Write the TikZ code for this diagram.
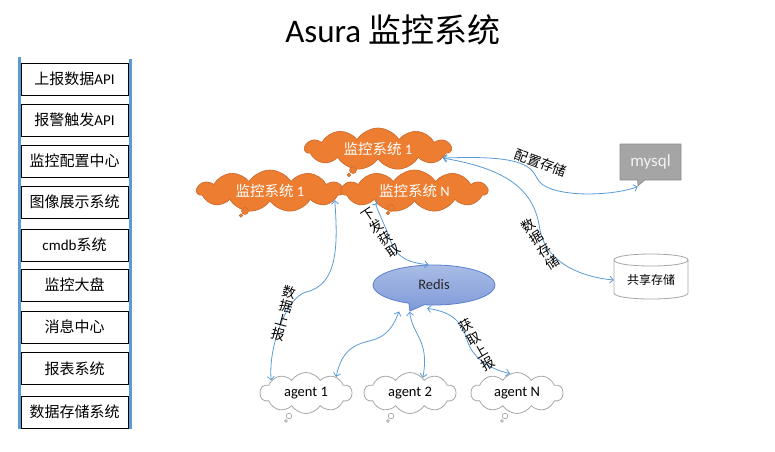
\documentclass[tikz,border=0pt]{standalone}
\usepackage{fontspec}
\setmainfont{Carlito}
\newfontfamily\cjk{Noto Sans CJK SC}
\usetikzlibrary{shapes.symbols,shapes.callouts,shapes.geometric,arrows.meta,calc}
\definecolor{lineblue}{HTML}{5B9BD5}
\definecolor{orangefill}{HTML}{ED7D31}
\definecolor{orangedraw}{HTML}{C8682C}
\definecolor{graybox}{HTML}{A5A5A5}
\definecolor{grayboxdraw}{HTML}{8C8C8C}
\definecolor{grayline}{HTML}{A6A6A6}
\definecolor{redistop}{HTML}{A9BCE6}
\definecolor{redisbot}{HTML}{7F9AD8}
\definecolor{redisdraw}{HTML}{5B7FCF}
\tikzset{
 sysbox/.style={draw=black, line width=0.9pt, fill=white, minimum width=107pt, minimum height=32pt, inner sep=0pt, font=\fontsize{15}{17}\selectfont},
 orangecloud/.style={cloud, cloud puffs=11, cloud puff arc=115, cloud ignores aspect, fill=orangefill, draw=orangedraw, line width=0.6pt, minimum width=146pt, minimum height=42pt, inner sep=0pt, text=white, font=\fontsize{14.5}{16}\selectfont},
 orangetail/.style={fill=orangefill, draw=orangedraw, line width=0.5pt},
 agentcloud/.style={cloud, cloud puffs=10, cloud puff arc=115, cloud ignores aspect, fill=white, draw=grayline, line width=0.8pt, minimum width=92pt, minimum height=41pt, inner sep=0pt, font=\fontsize{14.5}{16}\selectfont},
 agenttail/.style={fill=white, draw=grayline, line width=0.7pt},
 link/.style={draw=lineblue, line width=0.8pt, {Straight Barb[length=3.5pt,width=7pt]}-{Straight Barb[length=3.5pt,width=7pt]}},
 edgelabel/.style={inner sep=0pt, font=\cjk\fontsize{13.5}{14.5}\selectfont, align=center},
 panelline/.style={draw=lineblue, line width=2.5pt},
}
\begin{document}
\begin{tikzpicture}[x=1pt,y=-1pt]
\useasboundingbox (0,0) rectangle (775,451);
% title
\node[font=\fontsize{33}{37}\selectfont, inner sep=0pt] (title) at (393,30) {Asura {\cjk 监控系统}};
% left panel
\coordinate (pl1) at (19.5,57);
\coordinate (pl2) at (19.5,429);
\coordinate (pr1) at (130.5,59);
\coordinate (pr2) at (130.5,429);
\draw[panelline] (pl1) -- (pl2);
\draw[panelline] (pr1) -- (pr2);
\node[sysbox] (b1) at (74.5,79) {{\cjk 上报数据}API};
\node[sysbox] (b2) at (74.5,120) {{\cjk 报警触发}API};
\node[sysbox] (b3) at (74.5,161) {\cjk 监控配置中心};
\node[sysbox] (b4) at (74.5,202) {\cjk 图像展示系统};
\node[sysbox] (b5) at (74.5,245) {cmdb{\cjk 系统}};
\node[sysbox] (b6) at (74.5,285) {\cjk 监控大盘};
\node[sysbox] (b7) at (74.5,327) {\cjk 消息中心};
\node[sysbox] (b8) at (74.5,368.5) {\cjk 报表系统};
\node[sysbox] (b9) at (74.5,412) {\cjk 数据存储系统};
% orange clouds
\node[orangecloud] (c1) at (378,149) {{\cjk 监控系统} 1};
\fill[orangetail] (353,170) circle (3.5);
\fill[orangetail] (349,175) circle (1.8);
\node[orangecloud] (c2) at (270,191) {{\cjk 监控系统} 1};
\fill[orangetail] (245,211) circle (3.5);
\fill[orangetail] (241,215.5) circle (1.8);
\node[orangecloud] (c3) at (414.5,191) {{\cjk 监控系统} N};
\fill[orangetail] (391,208) circle (3.5);
\fill[orangetail] (388,213) circle (1.8);
% mysql
\node[rectangle callout, callout absolute pointer={(638,186)}, fill=graybox, draw=grayboxdraw, line width=0.6pt, minimum width=61pt, minimum height=36pt, inner sep=0pt, text=white!95!black, font=\fontsize{17}{19}\selectfont] (mysql) at (650.5,162) {mysql};
% shared storage cylinder
\filldraw[fill=white, draw=grayline, line width=0.8pt] (614,260) -- (614,293) .. controls (614,301) and (688,301) .. (688,293) -- (688,260) .. controls (688,252) and (614,252) .. (614,260) -- cycle;
\draw[grayline, line width=0.8pt] (614,260) .. controls (614,268) and (688,268) .. (688,260);
\node[inner sep=0pt, minimum width=74pt, minimum height=40pt, font=\cjk\fontsize{12}{14}\selectfont] (store) at (651,280) {共享存储};
% redis
\node[ellipse callout, callout absolute pointer={(410,311)}, top color=redistop, bottom color=redisbot, draw=redisdraw, line width=0.8pt, minimum width=122pt, minimum height=40pt, inner sep=0pt, font=\fontsize{14.5}{16}\selectfont, text=black!85] (redis) at (434,285) {Redis};
% agents
\node[agentcloud] (a1) at (306,393) {agent 1};
\draw[agenttail] (289,416) circle (2.8);
\draw[agenttail] (286,421) circle (1.4);
\node[agentcloud] (a2) at (410,393) {agent 2};
\draw[agenttail] (391,416) circle (2.8);
\draw[agenttail] (388,421) circle (1.4);
\node[agentcloud] (aN) at (517,393) {agent N};
\draw[agenttail] (505,416) circle (2.8);
\draw[agenttail] (502,421) circle (1.4);
% connectors
\draw[link] (c1.-8) .. controls (520,155) and (530,165) .. (537,178) .. controls (545,198) and (610,197) .. (mysql.pointer);
\draw[link] (c1.-8) .. controls (515,170) and (535,195) .. (540,230) .. controls (546,262) and (580,277) .. (store.west);
\draw[link] (c3.200) .. controls (372,200) and (384,222) .. (391,242) .. controls (398,260) and (412,263) .. (redis.105);
\draw[link] (c2.-8) .. controls (338,245) and (338,285) .. (306,292) .. controls (285,298) and (268,350) .. (a1.160);
\draw[link] ([shift={(-35,6)}]redis.south) .. controls (392,330) and (385,338) .. (365,342) .. controls (345,348) and (340,360) .. (a1.28);
\draw[link] (redis.pointer) .. controls (412,335) and (430,340) .. (a2.50);
\draw[link] ([shift={(-7,3)}]redis.south) .. controls (455,312) and (463,325) .. (467,340) .. controls (474,362) and (495,370) .. (aN.110);
% labels
\node[edgelabel, rotate=-20] (l1) at (541,163) {配置存储};
\node[edgelabel, rotate=33] (l2) at (540,244) {数\\据\\存\\储};
\node[edgelabel, rotate=34] (l3) at (381,233) {下\\发\\获\\取};
\node[edgelabel, rotate=-15] (l4) at (284,313) {数\\据\\上\\报};
\node[edgelabel, rotate=30] (l5) at (477,345) {获\\取\\上\\报};
\end{tikzpicture}
\end{document}
